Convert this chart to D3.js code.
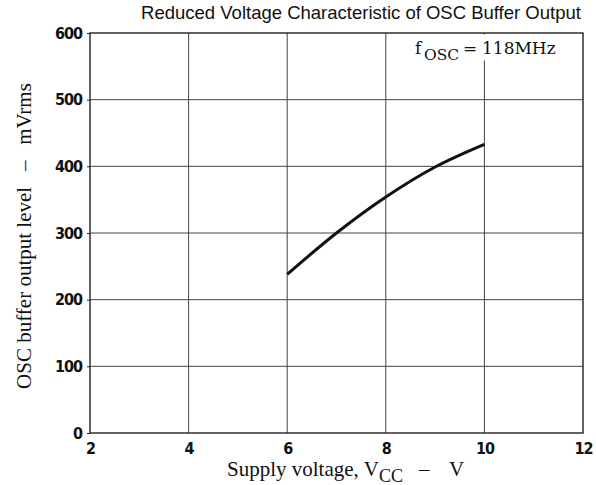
<!DOCTYPE html>
<html>
<head>
<meta charset="utf-8">
<script src="https://cdn.jsdelivr.net/npm/d3@7"></script>
<style>
  html, body { margin: 0; padding: 0; background: #fff; }
  text { white-space: pre; }
</style>
</head>
<body>
<div class="chart"></div>
<script>
// data
var supplyVoltage = [6, 7, 8, 9, 10];          // V
var outputLevel = [238, 300, 354, 399, 433];   // mVrms
var xTicks = [2, 4, 6, 8, 10, 12];
var yTicks = [0, 100, 200, 300, 400, 500, 600];

var width = 596, height = 485;
var margin = { top: 33, right: 13, bottom: 52, left: 90 };
var w = width - margin.left - margin.right;
var h = height - margin.top - margin.bottom;

var serif = "'Liberation Serif', 'Times New Roman', serif";

var svg = d3.select(".chart").append("svg")
    .attr("width", width)
    .attr("height", height);

var x = d3.scaleLinear().domain([2, 12]).range([0, w]);
var y = d3.scaleLinear().domain([0, 600]).range([h, 0]);

var g = svg.append("g").attr("transform", `translate(${margin.left},${margin.top})`);

// grid
g.append("g").selectAll("line")
    .data(xTicks.slice(1, -1))
    .enter().append("line")
    .attr("x1", d => x(d)).attr("x2", d => x(d))
    .attr("y1", 0).attr("y2", h)
    .attr("stroke", "#444").attr("stroke-width", 1);
g.append("g").selectAll("line")
    .data(yTicks.slice(1, -1))
    .enter().append("line")
    .attr("x1", 0).attr("x2", w)
    .attr("y1", d => y(d)).attr("y2", d => y(d))
    .attr("stroke", "#444").attr("stroke-width", 1);

// frame
g.append("rect")
    .attr("width", w).attr("height", h)
    .attr("fill", "none")
    .attr("stroke", "#222").attr("stroke-width", 1.4);

// label box cuts the gridline at the top
g.append("rect")
    .attr("x", x(8.6)).attr("y", 1.5)
    .attr("width", w - x(8.6) - 2).attr("height", 26)
    .attr("fill", "#fff");

var lbl = svg.append("text")
    .attr("y", 54)
    .attr("font-family", "'DejaVu Serif', serif")
    .attr("font-size", 17)
    .attr("fill", "#111");
lbl.append("tspan").attr("x", 415).text("f");
lbl.append("tspan").attr("x", 424).attr("dy", 6).attr("font-size", 15.5).text("OSC");
lbl.append("tspan").attr("x", 463).attr("dy", -6).text("=");
lbl.append("tspan").attr("x", 482).text("118MHz");

// axes (labels only)
var tickFont = "'Liberation Sans Narrow', 'DejaVu Sans Condensed', sans-serif";
var xAxis = g.append("g")
    .attr("transform", `translate(0,${h})`)
    .call(d3.axisBottom(x).tickValues(xTicks).tickSize(0).tickPadding(10));
var yAxis = g.append("g")
    .call(d3.axisLeft(y).tickValues(yTicks).tickSize(3).tickPadding(5));
[xAxis, yAxis].forEach(a => {
    a.select(".domain").remove();
    a.selectAll("line").attr("stroke", "#222");
    a.selectAll("text")
        .attr("font-family", tickFont)
        .attr("font-weight", "bold")
        .attr("font-size", 16)
        .attr("letter-spacing", -1)
        .attr("fill", "#111");
});

// curve
var line = d3.line()
    .x((d, i) => x(supplyVoltage[i]))
    .y(d => y(d))
    .curve(d3.curveMonotoneX);
g.append("path")
    .datum(outputLevel)
    .attr("d", line)
    .attr("fill", "none")
    .attr("stroke", "#111")
    .attr("stroke-width", 3);

// title and axis titles
svg.append("text")
    .attr("x", 361).attr("y", 19)
    .attr("text-anchor", "middle")
    .attr("font-family", "'Liberation Sans', Arial, sans-serif")
    .attr("font-size", 18.5)
    .attr("fill", "#111")
    .text("Reduced Voltage Characteristic of OSC Buffer Output");

var xt = svg.append("text")
    .attr("y", 476)
    .attr("font-family", serif)
    .attr("font-size", 21)
    .attr("fill", "#111");
xt.append("tspan").attr("x", 227).text("Supply voltage, V");
xt.append("tspan").attr("dy", 6).attr("font-size", 18).text("CC");
xt.append("tspan").attr("x", 419).attr("dy", -6).text("\u2013");
xt.append("tspan").attr("x", 449).text("V");

svg.append("text")
    .attr("transform", "translate(31,236) rotate(-90)")
    .attr("text-anchor", "middle")
    .attr("font-family", serif)
    .attr("font-size", 21)
    .attr("fill", "#111")
    .text("OSC buffer output level   \u2013   mVrms");
</script>
</body>
</html>
